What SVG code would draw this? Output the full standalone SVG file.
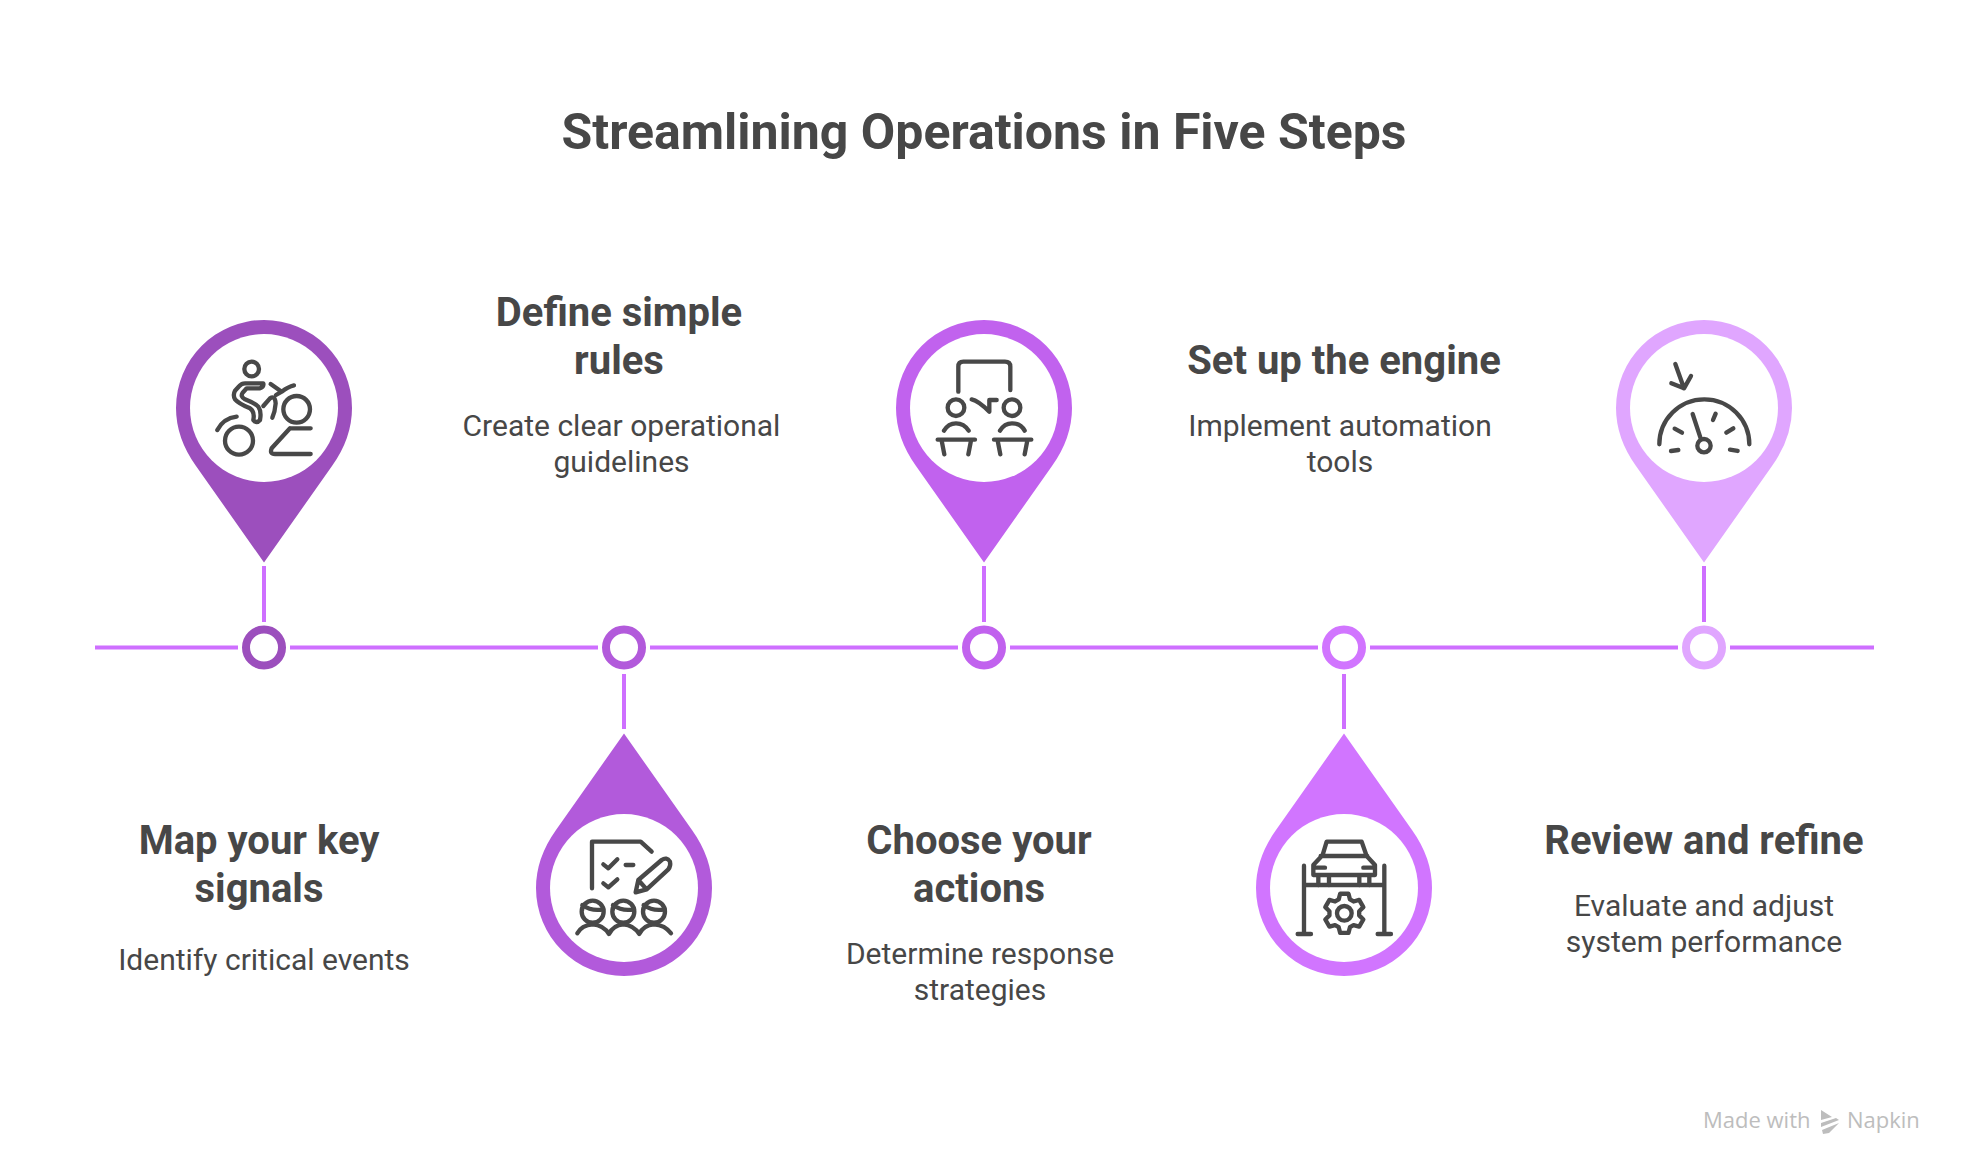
<svg xmlns="http://www.w3.org/2000/svg" width="1968" height="1176" viewBox="0 0 1968 1176">
<style>
text{font-family:Roboto,"Liberation Sans",sans-serif;fill:#474747;text-anchor:middle}
.t{font-size:50px;font-weight:700}
.h{font-size:40px;font-weight:700}
.d{font-size:30px}
.i{fill:none;stroke:#484848;stroke-width:13;stroke-linecap:round;stroke-linejoin:round}
.l{stroke:#ce6fff;stroke-width:4;fill:none}
.r{fill:#fff;stroke-width:8}
.m{font-family:"Open Sans",Roboto,sans-serif;font-size:22px;fill:#bdbdbd;text-anchor:start}
</style>
<defs>
<path id="pin" d="M0 154.500L-68 58Q-88 30-88 0A88 88 0 0 1 88 0Q88 30 68 58Z"/>
</defs>
<rect width="1968" height="1176" fill="#fff"/>
<text class="t" x="984" y="149">Streamlining Operations in Five Steps</text>
<g id="connectors" class="l">
<path d="M95 647.500H238M290 647.500H598M650 647.500H958M1010 647.500H1318M1370 647.500H1678M1730 647.500H1874"/>
<path d="M264 566V622M624 674V729M984 566V622M1344 674V729M1704 566V622"/>
</g>
<g id="step1">
<use href="#pin" x="264" y="408" fill="#9c4fbd"/><circle cx="264" cy="408" r="74" fill="#fff"/>
<circle class="r" cx="264" cy="647.500" r="18" stroke="#9c4fbd"/>
<g class="i" transform="translate(210 350) scale(.3333)">
<circle cx="125" cy="57" r="22"/>
<path d="M160 100H105Q95 100 88 108L75 122Q68 135 75 148Q85 160 120 175Q135 185 130 210Q140 222 150 210Q155 185 145 170Q135 160 105 148Q90 140 98 128L110 115H150Q162 110 160 100Z"/>
<path d="M160 168L180 145Q195 135 197 160Q195 185 187 203M182 102L215 125Q235 110 252 106M198 135L215 125"/>
<circle cx="260" cy="178" r="40"/><circle cx="87" cy="272" r="42"/>
<path d="M22 240Q40 205 80 200M240 235H302M240 235L185 295Q178 312 195 312H302"/>
</g>
<text class="h" x="259" y="854">Map your key</text><text class="h" x="259" y="902">signals</text>
<text class="d" x="264" y="970">Identify critical events</text>
</g>
<g id="step2">
<use href="#pin" transform="translate(624 888) rotate(180)" fill="#b25adb"/><circle cx="624" cy="888" r="74" fill="#fff"/>
<circle class="r" cx="624" cy="647.500" r="18" stroke="#b25adb"/>
<g class="i" transform="translate(570 830) scale(.3333)">
<path d="M66 175V35H212L245 65M100 103L115 115L142 88M100 160L115 172L142 148M167 105H190"/>
<path d="M205 150L275 90Q290 80 300 95Q303 108 295 118L230 178L197 187ZM205 150L230 178"/>
<circle cx="68" cy="245" r="33"/><circle cx="160" cy="245" r="33"/><circle cx="252" cy="245" r="33"/>
<path d="M37 225Q65 245 100 238M129 225Q157 245 192 238M221 225Q249 245 284 238"/>
<path d="M22 310Q35 285 68 283Q100 285 117 312Q130 285 160 283Q190 285 208 312Q220 285 252 283Q285 285 303 310"/>
</g>
<text class="h" x="619" y="326">Define simple</text><text class="h" x="619" y="374">rules</text>
<text class="d" x="621.500" y="436">Create clear operational</text><text class="d" x="621.500" y="472">guidelines</text>
</g>
<g id="step3">
<use href="#pin" x="984" y="408" fill="#c162ee"/><circle cx="984" cy="408" r="74" fill="#fff"/>
<circle class="r" cx="984" cy="647.500" r="18" stroke="#c162ee"/>
<g class="i" transform="translate(890 310) scale(.3333)">
<path d="M205 245V170Q205 155 220 155H345Q361 155 361 170V240"/>
<circle cx="198" cy="293" r="25"/><circle cx="366" cy="293" r="25"/>
<path d="M245 268Q265 272 298 305V270H320"/>
<path d="M162 362Q175 340 198 340Q222 340 236 362M330 362Q343 340 366 340Q392 340 404 362"/>
<path d="M143 389H255M155 392L163 433M243 392L235 433M312 389H424M323 392L331 433M412 392L404 433"/>
</g>
<text class="h" x="979" y="854">Choose your</text><text class="h" x="979" y="902">actions</text>
<text class="d" x="980" y="964">Determine response</text><text class="d" x="980" y="1000">strategies</text>
</g>
<g id="step4">
<use href="#pin" transform="translate(1344 888) rotate(180)" fill="#d175ff"/><circle cx="1344" cy="888" r="74" fill="#fff"/>
<circle class="r" cx="1344" cy="647.500" r="18" stroke="#d175ff"/>
<g class="i" transform="translate(1250 720) scale(.3333)">
<path d="M230 365L218 405L190 435V465H375V435L350 408L335 365ZM212 408H352M195 443H225M340 443H372M205 468V495M237 468V495M328 468V495M358 468V495"/>
<path d="M162 437V640M403 437V640M143 642H183M383 642H423M165 495H400"/>
<g transform="translate(283 580)">
<circle r="22"/>
<path d="M-16.900-41.700L-12.500-58.700L12.500-58.700L16.900-41.700L27.700-35.500L44.600-40.100L57.100-18.500L44.600-6.300V6.300L57.100 18.500L44.600 40.100L27.700 35.500L16.900 41.700L12.500 58.700L-12.500 58.700L-16.900 41.700L-27.700 35.500L-44.600 40.100L-57.100 18.500L-44.600 6.300V-6.300L-57.100-18.500L-44.600-40.100L-27.700-35.500Z"/>
</g>
</g>
<text class="h" x="1344" y="374">Set up the engine</text>
<text class="d" x="1340" y="436">Implement automation</text><text class="d" x="1340" y="472">tools</text>
</g>
<g id="step5">
<use href="#pin" x="1704" y="408" fill="#e0a6ff"/><circle cx="1704" cy="408" r="74" fill="#fff"/>
<circle class="r" cx="1704" cy="647.500" r="18" stroke="#e0a6ff"/>
<g class="i" transform="translate(1610 320) scale(.3333)">
<path d="M196 132L222 205M184 190L222 205L243 168"/>
<path d="M148 373A135 135 0 0 1 418 373"/>
<path d="M248 282L272 355"/><circle cx="282" cy="377" r="20"/>
<path d="M194 326L216 338M317 281L309 300M370 325L349 338M183 393L205 390M360 389L383 393"/>
</g>
<text class="h" x="1704" y="854">Review and refine</text>
<text class="d" x="1704" y="916">Evaluate and adjust</text><text class="d" x="1704" y="952">system performance</text>
</g>
<g id="watermark">
<text class="m" x="1703" y="1128">Made with</text>
<text class="m" x="1847" y="1128">Napkin</text>
<path fill="#bdbdbd" d="M1821 1110L1832 1117L1821 1120ZM1821 1123L1836 1118L1839 1120L1821 1127ZM1822 1130L1839 1123L1829 1133L1823 1134Z"/>
</g>
</svg>
